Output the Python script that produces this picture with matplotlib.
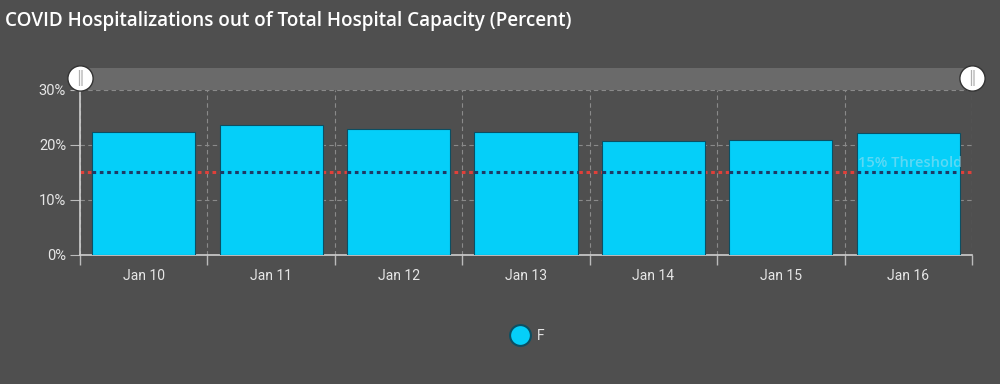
import numpy as np
import matplotlib.pyplot as plt
from matplotlib.lines import Line2D
from matplotlib.patches import Rectangle

# data
days = ['Jan 10', 'Jan 11', 'Jan 12', 'Jan 13', 'Jan 14', 'Jan 15', 'Jan 16']
hosp_pct = [22.4, 23.6, 22.9, 22.3, 20.8, 20.9, 22.1]
threshold = 15
y_ticks = [0, 10, 20, 30]

bg = '#4f4f4f'
bar_color = '#05cff9'
edge_color = '#0b4f63'
text_color = '#e6e6e6'
grid_color = '#8a8a8a'

plt.rcParams['font.family'] = ['Open Sans', 'DejaVu Sans']

fig = plt.figure(figsize=(10, 3.84), dpi=100, facecolor=bg)
ax = fig.add_axes([0.08, 0.336, 0.892, 0.4297], facecolor=bg)

x = np.arange(len(days))
width = 0.81
bars = ax.bar(x, hosp_pct, width=width, color=bar_color, edgecolor=edge_color,
              linewidth=0.8, zorder=3)

# threshold: red dotted behind bars, dark dotted across each bar
ax.axhline(threshold, color='#e0403a', linestyle=(0, (1.2, 1.2)), linewidth=2.2, zorder=2)
for b in bars:
    ax.hlines(threshold, b.get_x(), b.get_x() + b.get_width(), color='#1e3a66',
              linestyle=(0, (1.2, 1.2)), linewidth=2.2, zorder=4)
ax.text(len(days) - 0.5 - 0.08, threshold + 0.5, f'{threshold}% Threshold',
        ha='right', va='bottom', color='#dfe8ee', alpha=0.4, fontsize=10.5,
        fontweight='semibold', zorder=5)

ax.set_xlim(-0.5, len(days) - 0.5)
ax.set_ylim(0, 30)
ax.set_yticks(y_ticks)
ax.set_yticklabels([f'{v}%' for v in y_ticks])
ax.set_xticks(x)
ax.set_xticklabels(days)
ax.set_xticks(np.arange(len(days) + 1) - 0.5, minor=True)

ax.grid(axis='y', color=grid_color, linestyle=(0, (4, 3)), linewidth=0.8, zorder=1)
ax.grid(axis='x', which='minor', color=grid_color, linestyle=(0, (4, 3)),
        linewidth=0.8, zorder=1)
ax.tick_params(axis='x', which='major', length=0, colors=text_color, labelsize=10, pad=10)
ax.tick_params(axis='x', which='minor', length=7, color='#bbbbbb', width=1)
ax.tick_params(axis='y', length=7, color='#bbbbbb', colors=text_color, labelsize=10.5, pad=3)
for lab in ax.get_yticklabels() + ax.get_xticklabels():
    lab.set_color(text_color)
    lab.set_family(['Roboto', 'DejaVu Sans'])

for s in ['top', 'right']:
    ax.spines[s].set_visible(False)
for s in ['left', 'bottom']:
    ax.spines[s].set_color('#cfcfcf')
    ax.spines[s].set_linewidth(1.2)

# slider band above the plot with its two handles
ax.add_patch(Rectangle((0, 1.0), 1, 0.133, transform=ax.transAxes,
                       facecolor='#6a6a6a', edgecolor='none', clip_on=False, zorder=0))
ax.scatter([0, 1], [1.07, 1.07], transform=ax.transAxes, s=330, color='white',
           edgecolor='#333333', linewidth=1.0, clip_on=False, zorder=6)
for hx in [0, 1]:
    ax.text(hx, 1.07, '‖', transform=ax.transAxes, ha='center', va='center',
            color='#b0b0b0', fontsize=11, family='DejaVu Sans', zorder=7)

fig.text(0.005, 0.945, 'COVID Hospitalizations out of Total Hospital Capacity (Percent)',
         color='white', fontsize=13.6, fontweight='semibold', ha='left', va='center')

handle = Line2D([], [], linestyle='none', marker='o', markersize=15,
                markerfacecolor=bar_color, markeredgecolor=edge_color, markeredgewidth=1.5)
leg = fig.legend([handle], ['F'], loc='center', bbox_to_anchor=(0.525, 0.125),
                 frameon=False, handletextpad=0.2, fontsize=10)
for t in leg.get_texts():
    t.set_color(text_color)
    t.set_family(['Roboto', 'DejaVu Sans'])

fig.savefig('out.png', dpi=100, facecolor=bg)
